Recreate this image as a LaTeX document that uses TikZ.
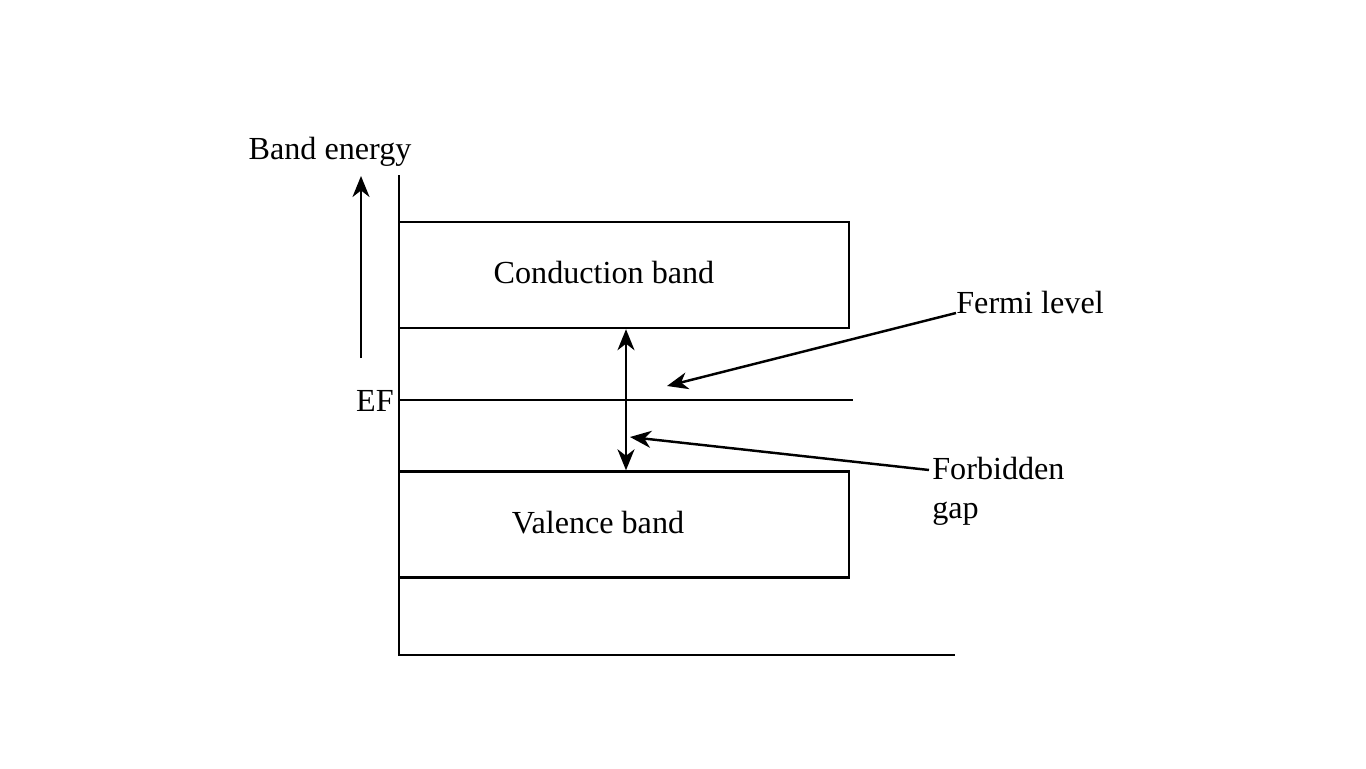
\documentclass[tikz,border=0pt]{standalone}
\usepackage{fontspec}
\setmainfont{Liberation Serif}
\usetikzlibrary{arrows.meta}

\begin{document}
\begin{tikzpicture}[x=0.02cm, y=-0.02cm, every node/.style={font=\fontsize{18.3}{22}\selectfont}]
% Define styles
\tikzstyle{band} = [rectangle, minimum width=9cm, minimum height=2.12cm, draw=black, line width=1.4pt, inner sep=0pt]
\tikzstyle{label} = [inner sep=0pt, align=left]
\tikzstyle{line} = [line width=1.4pt]
\tikzstyle{arrow} = [line width=1.4pt,-{Stealth[length=0.42cm,width=0.34cm,inset=0.13cm]}]
\tikzstyle{twoway} = [line width=1.4pt,{Stealth[length=0.42cm,width=0.34cm,inset=0.13cm]}-{Stealth[length=0.42cm,width=0.34cm,inset=0.13cm]}]
\useasboundingbox (0,0) rectangle (1366,768);
% Place nodes
\node (cb) [band] at (624,275) {};
\node (vb) [band] at (624,524.5) {};
\node (cbtext) at (604,272) {Conduction band};
\node (vbtext) at (598,523) {Valence band};
\node (energy) at (330,152) {Band energy};
\node (ef) [label, anchor=east] at (394,401) {EF};
\node (fermi) [label, anchor=base west] at (956,313) {Fermi level};
\node (gap) [label, anchor=north west] at (932,457) {Forbidden\\gap};
\coordinate (origin) at (399,655);
\coordinate (ytop) at (399,175);
\coordinate (xend) at (955,655);
\coordinate (efl) at (399,400);
\coordinate (efr) at (853,400);
\coordinate (up0) at (361,358);
\coordinate (up1) at (361,176);
\coordinate (fermitip) at (667,386);
\coordinate (gapstart) at (929,470);
\coordinate (gaptip) at (630,437);
% Draw lines
\draw [line] (ytop) -- (origin) -- (xend);
\draw [line] (efl) -- (efr);
% Draw arrows
\draw [arrow] (up0) -- (up1);
\draw [twoway] (cb.south -| 626,0) -- (vb.north -| 626,0);
\draw [arrow] (fermi.base west) -- (fermitip);
\draw [arrow] (gapstart) -- (gaptip);
\end{tikzpicture}
\end{document}
